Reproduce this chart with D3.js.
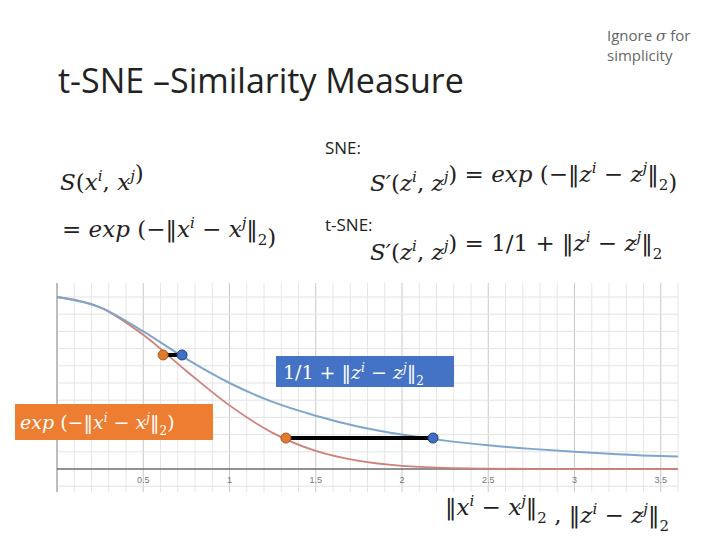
<!DOCTYPE html><html><head><meta charset="utf-8"><script src="https://cdn.jsdelivr.net/npm/d3@7"></script>
<style>body{margin:0;background:#fff}</style></head><body><svg id="c" width="720" height="540"></svg>
<script>
const xs = [0,0.25,0.5,0.75,1,1.25,1.5,1.75,2,2.25,2.5,2.75,3,3.25,3.5,3.6];
const snePts = [1,0.94,0.78,0.57,0.37,0.21,0.105,0.047,0.018,0.006,0.002,0.0005,0.0001,0,0,0];
const tsnePts = [1,0.94,0.80,0.64,0.50,0.39,0.31,0.246,0.20,0.165,0.138,0.117,0.10,0.086,0.075,0.072];
const orangePts = [[0.615,0.663],[1.327,0.18]];
const bluePts = [[0.725,0.663],[2.18,0.18]];
const xTicks = [0.5,1,1.5,2,2.5,3,3.5];

const svg = d3.select("#c");
const x = d3.scaleLinear().domain([0,3.6]).range([57,678]);
const y = d3.scaleLinear().domain([0,1]).range([469,297]);
const g = svg.append("g");
const xg = d3.range(0,3.61,0.1);
g.selectAll(".vx").data(xg).join("line").attr("x1",d=>x(d)).attr("x2",d=>x(d)).attr("y1",283).attr("y2",492)
 .attr("stroke",(d,i)=>i%5===0?"#c8c8c8":"#e6e6e6").attr("stroke-width",1);
const yg = d3.range(-0.1,1.09,0.1);
g.selectAll(".hy").data(yg).join("line").attr("x1",57).attr("x2",678).attr("y1",d=>y(d)).attr("y2",d=>y(d))
 .attr("stroke","#e3e3e3");
g.append("line").attr("x1",57).attr("x2",57).attr("y1",283).attr("y2",492).attr("stroke","#999");
g.append("line").attr("x1",57).attr("x2",678).attr("y1",y(0)).attr("y2",y(0)).attr("stroke","#333").attr("stroke-width",1.2);
g.selectAll(".tl").data(xTicks).join("text").attr("x",d=>x(d)).attr("y",483).attr("text-anchor","middle")
 .attr("font-family","Liberation Sans").attr("font-size",9).attr("fill","#777").text(d=>d);
const line = d3.line().curve(d3.curveMonotoneX).x((d,i)=>x(xs[i])).y(d=>y(d));
g.append("path").attr("d",line(snePts)).attr("fill","none").attr("stroke","#d0807a").attr("stroke-width",1.8);
g.append("path").attr("d",line(tsnePts)).attr("fill","none").attr("stroke","#7ea6cc").attr("stroke-width",2);
orangePts.forEach((p,i)=>{
  g.append("line").attr("x1",x(p[0])).attr("x2",x(bluePts[i][0])).attr("y1",y(p[1])).attr("y2",y(bluePts[i][1])).attr("stroke","#000").attr("stroke-width",4);
});
g.selectAll(".o").data(orangePts).join("circle").attr("cx",d=>x(d[0])).attr("cy",d=>y(d[1])).attr("r",5).attr("fill","#e07b2e").attr("stroke","#a85a1e");
g.selectAll(".b").data(bluePts).join("circle").attr("cx",d=>x(d[0])).attr("cy",d=>y(d[1])).attr("r",5).attr("fill","#3f6fc4").attr("stroke","#1f3f80");

svg.append("rect").attr("x",276).attr("y",356).attr("width",178).attr("height",31).attr("fill","#4472c4");
svg.append("text").attr("x",283).attr("y",379).attr("font-family","DejaVu Serif").attr("font-size",19).attr("fill","#fff")
 .html('1/1 + ‖<tspan font-style="italic">z</tspan><tspan dy="-7" font-size="12" font-style="italic">i</tspan><tspan dy="7"> − </tspan><tspan font-style="italic">z</tspan><tspan dy="-7" font-size="12" font-style="italic">j</tspan><tspan dy="7">‖</tspan><tspan dy="6" font-size="12">2</tspan>');
svg.append("rect").attr("x",15).attr("y",404).attr("width",198).attr("height",36).attr("fill","#ed7d31");
svg.append("text").attr("x",20).attr("y",429).attr("font-family","DejaVu Serif").attr("font-size",19).attr("fill","#fff")
 .html('<tspan font-style="italic">exp</tspan> (−‖<tspan font-style="italic">x</tspan><tspan dy="-7" font-size="12" font-style="italic">i</tspan><tspan dy="7"> − </tspan><tspan font-style="italic">x</tspan><tspan dy="-7" font-size="12" font-style="italic">j</tspan><tspan dy="7">‖</tspan><tspan dy="6" font-size="12">2</tspan><tspan dy="-6">)</tspan>');

const T=(x0,y0,s,html,opt={})=>svg.append("text").attr("x",x0).attr("y",y0).attr("font-size",s)
  .attr("font-family",opt.f||"Open Sans").attr("fill",opt.c||"#222").html(html);
T(58,93,34,"t-SNE –Similarity Measure",{c:"#222"});
T(607,41,15,"Ignore <tspan font-style='italic' font-family='DejaVu Serif'>σ</tspan> for",{c:"#666"});
T(607,61,15,"simplicity",{c:"#666"});
T(325,154,17,"SNE:");
T(325,231,17,"t-SNE:");
const M={f:"DejaVu Serif",c:"#222"};
const ij=(v)=>`<tspan font-style="italic">${v}</tspan><tspan dy="-9" font-size="15" font-style="italic">i</tspan><tspan dy="9">, </tspan><tspan font-style="italic">${v}</tspan><tspan dy="-9" font-size="15" font-style="italic">j</tspan><tspan dy="9"></tspan>`;
const nrm=(v)=>`‖<tspan font-style="italic">${v}</tspan><tspan dy="-9" font-size="15" font-style="italic">i</tspan><tspan dy="9"> − </tspan><tspan font-style="italic">${v}</tspan><tspan dy="-9" font-size="15" font-style="italic">j</tspan><tspan dy="9">‖</tspan><tspan dy="8" font-size="15">2</tspan><tspan dy="-8"></tspan>`;
T(60,190,23,`<tspan font-style="italic">S</tspan>(${ij("x")})`,M);
T(62,237,23,`= <tspan font-style="italic">exp</tspan> (−${nrm("x")})`,M);
T(370,191,23,`<tspan font-style="italic">S′</tspan>(${ij("z")}) = <tspan font-style="italic">exp</tspan> (−${nrm("z")})`,M);
T(370,260,23,`<tspan font-style="italic">S′</tspan>(${ij("z")}) = 1/1 + ${nrm("z")}`,M);
T(445,515,23,`${nrm("x")} , ${nrm("z")}`,M);
</script></body></html>
